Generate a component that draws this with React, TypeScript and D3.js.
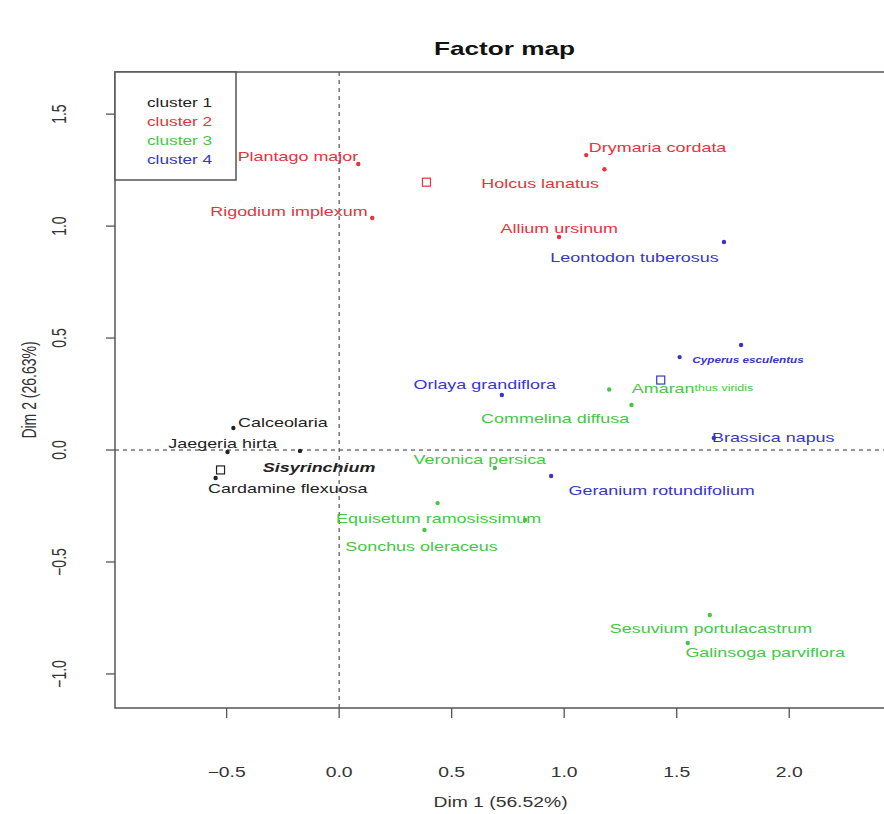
import React from 'react';
import * as d3 from 'd3';

// individuals: name, coordinates, cluster, label position (data units)
const names = [
  'Calceolaria', 'Jaegeria hirta', 'Sisyrinchium', 'Cardamine flexuosa',
  'Plantago major', 'Rigodium implexum', 'Drymaria cordata', 'Holcus lanatus', 'Allium ursinum',
  'Leontodon tuberosus', 'Cyperus esculentus', 'Orlaya grandiflora', 'Brassica napus', 'Geranium rotundifolium', '',
  'Amaranthus viridis', 'Commelina diffusa', 'Veronica persica', 'Equisetum ramosissimum', '', 'Sonchus oleraceus',
  'Sesuvium portulacastrum', 'Galinsoga parviflora',
];
const dim1 = [
  -0.47, -0.496, -0.174, -0.549,
  0.085, 0.147, 1.098, 1.179, 0.977,
  1.71, 1.786, 0.723, 1.665, 0.942, 1.513,
  1.2, 1.299, 0.692, 0.4375, 0.826, 0.379,
  1.647, 1.549,
];
const dim2 = [
  0.098, -0.009, -0.004, -0.125,
  1.277, 1.036, 1.317, 1.254, 0.951,
  0.929, 0.469, 0.246, 0.054, -0.116, 0.415,
  0.27, 0.201, -0.08, -0.237, -0.3125, -0.357,
  -0.737, -0.862,
];
const clusterOf = [
  1, 1, 1, 1,
  2, 2, 2, 2, 2,
  4, 4, 4, 4, 4, 4,
  3, 3, 3, 3, 3, 3,
  3, 3,
];
const labelDim1 = [
  -0.25, -0.518, -0.089, -0.228,
  -0.183, -0.223, 1.415, 0.893, 0.978,
  1.3125, 1.817, 0.647, 1.929, 1.433, 0,
  1.57, 0.96, 0.625, 0.442, 0, 0.366,
  1.652, 1.893,
];
const labelDim2 = [
  0.125, 0.031, -0.076, -0.17,
  1.3125, 1.067, 1.353, 1.192, 0.991,
  0.862, 0.402, 0.295, 0.054, -0.179, 0,
  0.277, 0.143, -0.04, -0.304, 0, -0.429,
  -0.795, -0.902,
];

// cluster centres (open squares)
const centreDim1 = [-0.527, 0.388, 1.429];
const centreDim2 = [-0.089, 1.196, 0.3125];
const centreCluster = [1, 2, 4];

const clusters = ['cluster 1', 'cluster 2', 'cluster 3', 'cluster 4'];
const xTicks = [-0.5, 0, 0.5, 1, 1.5, 2];
const yTicks = [-1, -0.5, 0, 0.5, 1, 1.5];

const colors = ['#222222', '#e8323c', '#44c844', '#3636cc'];
const SX = 1.38; // the picture is stretched horizontally
const FONT = '"Liberation Sans", Arial, sans-serif';

const App = () => {
  const width = 884;
  const height = 814;
  const margin = { top: 72, right: -2, bottom: 106, left: 115 };
  const innerW = width - margin.left - margin.right;
  const innerH = height - margin.top - margin.bottom;

  const x = d3.scaleLinear().domain([-0.996, 2.43]).range([0, innerW]);
  const y = d3.scaleLinear().domain([-1.152, 1.688]).range([innerH, 0]);

  const col = (c: number) => colors[c - 1];

  return (
    <svg width={width} height={height} style={{ position: 'absolute', left: 0, top: 0 }}
      fontFamily={FONT}>
      <rect width={width} height={height} fill="white" />
      <text transform={`translate(${margin.left + innerW / 2 + 4},${48}) scale(${SX},1)`}
        textAnchor="middle" dominantBaseline="central" fontSize={19} fontWeight="bold" fill="#111">
        Factor map
      </text>
      <g transform={`translate(${margin.left},${margin.top})`}>
        {/* reference lines */}
        <line x1={0} x2={innerW} y1={y(0)} y2={y(0)} stroke="#333" strokeDasharray="4,4" />
        <line x1={x(0)} x2={x(0)} y1={0} y2={innerH} stroke="#333" strokeDasharray="4,4" />

        {/* box */}
        <rect x={0} y={0} width={innerW} height={innerH} fill="none" stroke="#555" strokeWidth={1.5} />

        {/* x axis */}
        {xTicks.map(t => (
          <g key={'x' + t}>
            <line x1={x(t)} x2={x(t)} y1={innerH} y2={innerH + 10} stroke="#555" strokeWidth={1.3} />
            <text transform={`translate(${x(t)},${innerH + 64}) scale(${SX},1)`} textAnchor="middle"
              dominantBaseline="central" fontSize={14} fill="#333">{d3.format('.1f')(t)}</text>
          </g>
        ))}
        <text transform={`translate(${innerW / 2},${innerH + 94}) scale(${SX},1)`} textAnchor="middle"
          dominantBaseline="central" fontSize={14} fill="#333">Dim 1 (56.52%)</text>

        {/* y axis */}
        {yTicks.map(t => (
          <g key={'y' + t}>
            <line x1={-9} x2={0} y1={y(t)} y2={y(t)} stroke="#555" strokeWidth={1.3} />
            <text transform={`translate(${-55},${y(t)}) rotate(-90) scale(1,${SX})`} textAnchor="middle"
              dominantBaseline="central" fontSize={14} fill="#333">{d3.format('.1f')(t)}</text>
          </g>
        ))}
        <text transform={`translate(${-85},${innerH / 2}) rotate(-90) scale(1,${SX})`} textAnchor="middle"
          dominantBaseline="central" fontSize={14} fill="#333">Dim 2 (26.63%)</text>

        {/* individuals */}
        {names.map((n, i) => (
          <circle key={'p' + i} cx={x(dim1[i])} cy={y(dim2[i])} r={2.2} fill={col(clusterOf[i])} />
        ))}
        {centreDim1.map((v, i) => (
          <rect key={'c' + i} x={x(v) - 4} y={y(centreDim2[i]) - 4} width={8} height={8}
            fill="none" stroke={col(centreCluster[i])} strokeWidth={1.2} />
        ))}
        {names.map((n, i) => {
          if (!n) return null;
          const c = col(clusterOf[i]);
          const tr = `translate(${x(labelDim1[i])},${y(labelDim2[i])}) scale(${SX},1)`;
          if (n === 'Sisyrinchium') {
            return <text key={'l' + i} transform={tr} textAnchor="middle" dominantBaseline="central"
              fontSize={13} fontWeight="bold" fontStyle="italic" fill={c}>{n}</text>;
          }
          if (n === 'Cyperus esculentus') {
            return <text key={'l' + i} transform={tr} textAnchor="middle" dominantBaseline="central"
              fontSize={8.5} fontWeight="bold" fontStyle="italic" fill={c}>{n}</text>;
          }
          if (n === 'Amaranthus viridis') {
            return <text key={'l' + i} transform={tr} textAnchor="middle" dominantBaseline="central"
              fontSize={13} fill={c}>Amaran<tspan fontSize={9}>thus viridis</tspan></text>;
          }
          return <text key={'l' + i} transform={tr} textAnchor="middle" dominantBaseline="central"
            fontSize={13} fill={c}>{n}</text>;
        })}

        {/* legend */}
        <rect x={0} y={0} width={121} height={108} fill="white" stroke="#555" strokeWidth={1.5} />
        {clusters.map((c, i) => (
          <text key={c} transform={`translate(${32},${30 + i * 19.3}) scale(${SX},1)`}
            dominantBaseline="central" fontSize={12.5} fill={colors[i]}>{c}</text>
        ))}
      </g>
    </svg>
  );
};

export default App;
